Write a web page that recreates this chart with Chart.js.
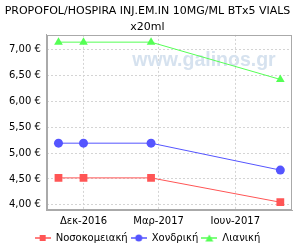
<!DOCTYPE html>
<html>
<head>
<meta charset="utf-8">
<script src="https://cdn.jsdelivr.net/npm/chart.js@4"></script>
<style>
  body { margin: 0; background: #fff; }
  #chart { display: block; }
</style>
</head>
<body>
<canvas id="chart" width="300" height="250"></canvas>
<script>
// dates of the price changes
const dates = ['2016-11-01', '2016-12-01', '2017-02-20', '2017-07-25'];
const nosokomeiaki = [4.52, 4.52, 4.52, 4.05];
const xondriki = [5.19, 5.19, 5.19, 4.67];
const lianiki = [7.14, 7.14, 7.14, 6.42];

const tickDates = ['2016-12-01', '2017-03-01', '2017-06-01'];
const tickLabels = ['Δεκ-2016', 'Μαρ-2017', 'Ιουν-2017'];
const yTicks = [4.0, 4.5, 5.0, 5.5, 6.0, 6.5, 7.0];

const DAY = 86400000;
const toDay = d => Date.parse(d) / DAY;
const xMin = toDay('2016-10-18');
const xMax = toDay('2017-08-08');

function legendIcon(color, shape) {
    var c = document.createElement('canvas');
    c.width = 16; c.height = 10;
    var g = c.getContext('2d');
    g.strokeStyle = color;
    g.fillStyle = color;
    g.lineWidth = 1.5;
    g.beginPath(); g.moveTo(0, 5); g.lineTo(16, 5); g.stroke();
    g.beginPath();
    if (shape == 'rect') g.rect(5, 2, 6, 6);
    else if (shape == 'circle') g.arc(8, 5, 3.5, 0, Math.PI * 2);
    else { g.moveTo(8, 1.5); g.lineTo(12, 8.5); g.lineTo(4, 8.5); g.closePath(); }
    g.fill();
    return c;
}

const series = [
    { label: 'Νοσοκομειακή', values: nosokomeiaki, color: '#ff5555', style: 'rect', r: 5.5 },
    { label: 'Χονδρική', values: xondriki, color: '#5555ff', style: 'circle', r: 4.5 },
    { label: 'Λιανική', values: lianiki, color: '#55ff55', style: 'triangle', r: 5 }
];

const watermark = {
    id: 'watermark',
    beforeDatasetsDraw(chart) {
        const a = chart.chartArea, ctx = chart.ctx;
        ctx.save();
        ctx.font = 'bold 19.5px "Liberation Sans"';
        ctx.fillStyle = 'rgb(214, 226, 239)';
        ctx.textAlign = 'center';
        ctx.textBaseline = 'alphabetic';
        ctx.fillText('www.galinos.gr', a.right - 88, a.top + 31);
        ctx.restore();
    }
};

Chart.defaults.font.family = '"DejaVu Sans", sans-serif';
Chart.defaults.color = '#000';

new Chart(document.getElementById('chart'), {
    type: 'line',
    data: {
        datasets: series.map(s => ({
            label: s.label,
            data: dates.map((d, i) => ({ x: toDay(d), y: s.values[i] })),
            borderColor: s.color,
            backgroundColor: s.color,
            borderWidth: 1,
            pointStyle: s.style,
            pointRadius: s.r,
            pointHoverRadius: s.r,
            pointBorderWidth: 0,
            legendIcon: legendIcon(s.color, s.style)
        }))
    },
    options: {
        responsive: false,
        animation: false,
        layout: { padding: { left: 3, right: 8, top: 0, bottom: -3 } },
        plugins: {
            title: {
                display: true,
                text: ['PROPOFOL/HOSPIRA INJ.EM.IN 10MG/ML BTx5 VIALS', 'x20ml'],
                font: { size: 11, weight: 'normal', lineHeight: 1.45 },
                color: '#000',
                padding: { top: 3, bottom: 0 }
            },
            legend: {
                position: 'bottom',
                labels: {
                    usePointStyle: true,
                    pointStyleWidth: 16,
                    font: { size: 10 },
                    padding: 3,
                    generateLabels(chart) {
                        return chart.data.datasets.map((ds, i) => ({
                            text: ds.label,
                            pointStyle: ds.legendIcon,
                            fillStyle: ds.borderColor,
                            strokeStyle: ds.borderColor,
                            lineWidth: 0,
                            datasetIndex: i,
                            fontColor: '#000'
                        }));
                    }
                }
            },
            tooltip: { enabled: false }
        },
        scales: {
            x: {
                type: 'linear',
                min: xMin,
                max: xMax,
                afterBuildTicks(axis) {
                    axis.ticks = tickDates.map(d => ({ value: toDay(d) }));
                },
                afterFit(axis) {
                    axis.height = 20;
                },
                ticks: {
                    font: { size: 10 },
                    padding: 5,
                    maxRotation: 0,
                    callback(v) {
                        const i = tickDates.findIndex(d => toDay(d) == v);
                        return i >= 0 ? tickLabels[i] : '';
                    }
                },
                grid: { color: '#d4d4d4', drawTicks: false },
                border: { color: '#aaa', dash: [2, 2] }
            },
            y: {
                min: 3.9,
                max: 7.28,
                afterBuildTicks(axis) {
                    axis.ticks = yTicks.map(v => ({ value: v }));
                },
                ticks: {
                    font: { size: 10 },
                    padding: 6,
                    callback: v => v.toFixed(2).replace('.', ',') + ' €'
                },
                grid: { color: '#d4d4d4', drawTicks: false },
                border: { color: '#aaa', dash: [2, 2] }
            }
        }
    },
    plugins: [watermark, {
        id: 'frame',
        afterDraw(chart) {
            const a = chart.chartArea, ctx = chart.ctx;
            ctx.save();
            ctx.strokeStyle = '#aaa';
            ctx.lineWidth = 1;
            ctx.strokeRect(Math.round(a.left) + 0.5, Math.round(a.top) + 0.5,
                Math.round(a.right - a.left) - 1, Math.round(a.bottom - a.top) - 1);
            ctx.restore();
        }
    }]
});
</script>
</body>
</html>
